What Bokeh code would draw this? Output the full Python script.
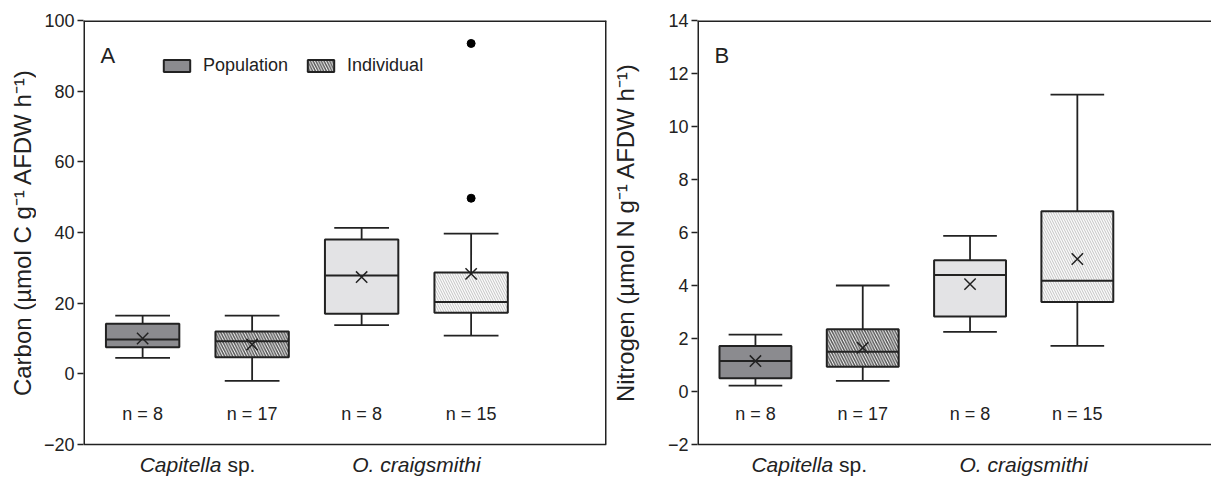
import math
from bokeh.plotting import figure
from bokeh.models import (Label, FixedTicker, Range1d, Legend, LegendItem,
                          ColumnDataSource)
from bokeh.layouts import row
from bokeh.embed import file_html
from bokeh.resources import INLINE
from bokeh.core.properties import value

# ---------------- data ----------------
groups = ["Capitella population", "Capitella individual",
          "O. craigsmithi population", "O. craigsmithi individual"]
positions = [1, 2, 3, 4]
n_labels = ["n = 8", "n = 17", "n = 8", "n = 15"]
species_pos = [1.5, 3.5]
genus_labels = ["Capitella", "O. craigsmithi"]
legend_labels = ["Population", "Individual"]

carbon_low = [4.5, -2.0, 13.8, 10.8]
carbon_q1 = [7.5, 4.7, 17.0, 17.3]
carbon_median = [9.7, 9.2, 27.8, 20.3]
carbon_q3 = [14.2, 12.0, 38.0, 28.7]
carbon_high = [16.5, 16.5, 41.3, 39.7]
carbon_mean = [10.0, 8.3, 27.4, 28.3]
carbon_outlier_x = [4, 4]
carbon_outlier_y = [49.7, 93.5]

nitrogen_low = [0.22, 0.40, 2.25, 1.72]
nitrogen_q1 = [0.50, 0.93, 2.83, 3.38]
nitrogen_median = [1.15, 1.50, 4.40, 4.18]
nitrogen_q3 = [1.72, 2.35, 4.95, 6.80]
nitrogen_high = [2.15, 4.00, 5.87, 11.20]
nitrogen_mean = [1.15, 1.65, 4.05, 5.00]

carbon_ticks = [-20, 0, 20, 40, 60, 80, 100]
nitrogen_ticks = [-2, 0, 2, 4, 6, 8, 10, 12, 14]

# ---------------- styles / layout ----------------
FONT = "Liberation Sans"
INK = "#222222"
fills = ["#8b8b8f", "#ffffff", "#e3e3e5", "#fbfbfb"]
hatches = [" ", "\\", " ", "\\"]
hatch_colors = ["#555555", "#555555", "#bbbbbb", "#c4c4c4"]
hatch_scales = [6, 5.5, 6, 5]
hatch_weights = [1, 1.5, 1, 1]

BOX_W = 0.67
CAP_W = 0.5
H = 476          # figure height
TOP = 20         # px above the box frame
BOX_H = 424      # px height of the drawn box (y range of data)


def ypx(px, yr):
    """data value at a pixel row (measured from figure top)"""
    return yr[1] - (px - TOP) / BOX_H * (yr[1] - yr[0])


def panel(low, q1, med, q3, high, mean, ticks, yr, xr, ylabel, letter,
          width, mbl, mbr, strip_w, strip_cx, right_line,
          out_x=None, out_y=None, legend=False):
    y_range = Range1d(ypx(H, yr), yr[1])
    x_range = Range1d(*xr)

    # --- y-axis title in its own narrow strip ---
    s = figure(width=strip_w, height=H, x_range=Range1d(0, strip_w),
               y_range=y_range, output_backend="svg", toolbar_location=None,
               min_border_left=0, min_border_right=0, min_border_top=TOP,
               min_border_bottom=0, x_axis_location=None, y_axis_location=None)
    s.grid.visible = False
    s.outline_line_color = None
    s.text(x=[strip_cx], y=[(yr[0] + yr[1]) / 2], text=[ylabel],
           angle=math.pi / 2, text_align="center", text_baseline="middle",
           text_font=value(FONT), text_font_size="24px", text_color=INK)

    # --- main panel ---
    p = figure(width=width, height=H, x_range=x_range, y_range=y_range,
               output_backend="svg", toolbar_location=None,
               min_border_left=mbl, min_border_right=mbr, min_border_top=TOP,
               min_border_bottom=0, x_axis_location=None)
    p.grid.visible = False
    p.outline_line_color = None

    ya = p.yaxis[0]
    ya.ticker = FixedTicker(ticks=ticks)
    ya.major_label_overrides = {t: ("\u2212" + str(-t)) for t in ticks if t < 0}
    ya.minor_tick_line_color = None
    ya.major_tick_in = 0
    ya.major_tick_out = 6
    ya.major_tick_line_width = 1.3
    ya.major_tick_line_color = INK
    ya.axis_line_color = None
    ya.major_label_text_font = FONT
    ya.major_label_text_font_size = "18px"
    ya.major_label_text_color = INK
    ya.major_label_standoff = 3

    # box frame lines (edges sit on the plot frame, so draw them double width)
    x0, x1 = xr
    p.segment(x0=[x0], y0=[yr[0]], x1=[x0], y1=[yr[1]], line_color=INK, line_width=3)
    p.segment(x0=[x0], y0=[yr[1]], x1=[x1], y1=[yr[1]], line_color=INK, line_width=3)
    p.segment(x0=[x0], y0=[yr[0]], x1=[x1], y1=[yr[0]], line_color=INK, line_width=1.5)
    if right_line:
        p.segment(x0=[x1], y0=[yr[0]], x1=[x1], y1=[yr[1]], line_color=INK, line_width=3)

    src = ColumnDataSource(dict(
        x=positions, low=low, q1=q1, med=med, q3=q3, high=high, mean=mean,
        fill=fills, hatch=hatches, hcol=hatch_colors, hscale=hatch_scales,
        hweight=hatch_weights,
        bx0=[v - BOX_W / 2 for v in positions], bx1=[v + BOX_W / 2 for v in positions],
        c0=[v - CAP_W / 2 for v in positions], c1=[v + CAP_W / 2 for v in positions],
    ))

    p.segment("x", "q3", "x", "high", source=src, line_color=INK, line_width=1.8)
    p.segment("x", "low", "x", "q1", source=src, line_color=INK, line_width=1.8)
    p.segment("c0", "high", "c1", "high", source=src, line_color=INK, line_width=1.8)
    p.segment("c0", "low", "c1", "low", source=src, line_color=INK, line_width=1.8)

    boxes = p.vbar(x="x", bottom="q1", top="q3", width=BOX_W, source=src,
                   fill_color="fill", line_color=INK, line_width=2,
                   hatch_pattern="hatch", hatch_color="hcol",
                   hatch_scale="hscale", hatch_weight="hweight")
    p.segment("bx0", "med", "bx1", "med", source=src, line_color=INK, line_width=2)
    p.scatter("x", "mean", source=src, marker="x", size=16, line_color=INK,
              line_width=1.5)
    if out_x is not None:
        p.scatter(out_x, out_y, marker="circle", size=8, fill_color="black",
                  line_color="black")

    # n labels
    n_y = ypx(413, yr)
    p.text(x=positions, y=[n_y] * len(positions), text=n_labels,
           text_align="center", text_baseline="middle",
           text_font=value(FONT), text_font_size="18px", text_color=INK)

    # species labels below the box
    sp_y = ypx(464, yr)
    p.text(x=[species_pos[0]], y=[sp_y], text=[genus_labels[0]], x_offset=24,
           text_align="right", text_baseline="middle",
           text_font=value(FONT), text_font_size="21px",
           text_font_style="italic", text_color=INK)
    p.text(x=[species_pos[0]], y=[sp_y], text=["sp."], x_offset=30,
           text_align="left", text_baseline="middle",
           text_font=value(FONT), text_font_size="21px", text_color=INK)
    p.text(x=[species_pos[1]], y=[sp_y], text=[genus_labels[1]],
           text_align="center", text_baseline="middle",
           text_font=value(FONT), text_font_size="21px",
           text_font_style="italic", text_color=INK)

    # panel letter
    lx = x0 + 17 / ((width - mbl - mbr) / (x1 - x0))
    p.add_layout(Label(x=lx, y=ypx(55, yr), text=letter, text_align="left",
                       text_baseline="middle", text_font=FONT,
                       text_font_size="22px", text_color=INK))

    if legend:
        lg = Legend(items=[LegendItem(label=legend_labels[0], renderers=[boxes], index=0),
                           LegendItem(label=legend_labels[1], renderers=[boxes], index=1)],
                    orientation="horizontal", location=(77, 400),
                    border_line_color=None, background_fill_alpha=0,
                    glyph_width=33, glyph_height=15, label_standoff=10,
                    spacing=16, padding=0, margin=0,
                    label_text_font=FONT, label_text_font_size="18px",
                    label_text_color=INK)
        p.add_layout(lg)
    return s, p


# panel A: strip 0-36, main 36-612, frame 83-606
sA, pA = panel(carbon_low, carbon_q1, carbon_median, carbon_q3, carbon_high,
               carbon_mean, carbon_ticks, (-20, 100), (0.46, 0.46 + 523 / 109.5),
               "Carbon (\u00b5mol C g\u207b\u00b9 AFDW h\u207b\u00b9)", "A",
               width=576, mbl=47, mbr=6, strip_w=36, strip_cx=22,
               right_line=True, out_x=carbon_outlier_x,
               out_y=carbon_outlier_y, legend=True)

# panel B: strip 612-645, main 645-1211, frame 697-1211
sB, pB = panel(nitrogen_low, nitrogen_q1, nitrogen_median, nitrogen_q3,
               nitrogen_high, nitrogen_mean, nitrogen_ticks, (-2, 14),
               (0.46, 0.46 + 514 / 107.3),
               "Nitrogen (\u00b5mol N g\u207b\u00b9 AFDW h\u207b\u00b9)", "B",
               width=566, mbl=52, mbr=0, strip_w=33, strip_cx=13,
               right_line=False)

layout = row(sA, pA, sB, pB)
open("out.html", "w").write(file_html(layout, INLINE))
